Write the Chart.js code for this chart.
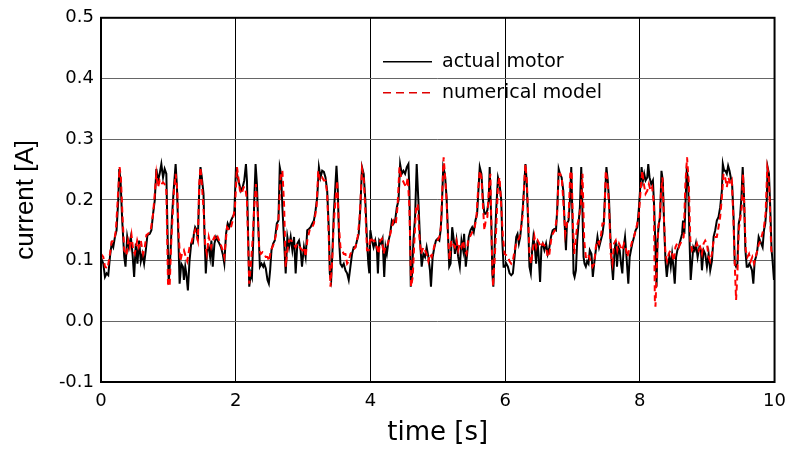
<!DOCTYPE html>
<html>
<head>
<meta charset="utf-8">
<script src="https://cdn.jsdelivr.net/npm/chart.js@4.4.1/dist/chart.umd.min.js"></script>
<style>
  html, body { margin: 0; padding: 0; background: #fff; }
  #wrap { width: 795px; height: 451px; }
</style>
</head>
<body>
<div id="wrap"><canvas id="currentChart" width="795" height="451"></canvas></div>
<script>
// tick labels
var xTicks = [0, 2, 4, 6, 8, 10];
var yTicks = [-0.1, 0.0, 0.1, 0.2, 0.3, 0.4, 0.5];
var seriesNames = ['actual motor', 'numerical model'];

// actual motor: time [s] / current [A]
var timeActual = [
  0.000, 0.034, 0.059, 0.084, 0.108, 0.133, 0.158, 0.182, 0.207, 0.231, 0.256, 0.271, 0.290, 0.315, 0.345, 0.364,
  0.389, 0.414, 0.443, 0.468, 0.492, 0.517, 0.541, 0.566, 0.591, 0.615, 0.640, 0.665, 0.689, 0.724, 0.748, 0.773,
  0.798, 0.822, 0.847, 0.871, 0.896, 0.921, 0.945, 0.970, 0.985, 1.005, 1.034, 1.054, 1.078, 1.108, 1.128, 1.143,
  1.167, 1.192, 1.216, 1.231, 1.251, 1.266, 1.290, 1.314, 1.339, 1.364, 1.379, 1.398, 1.423, 1.438, 1.458, 1.477,
  1.497, 1.522, 1.536, 1.556, 1.576, 1.600, 1.620, 1.639, 1.659, 1.684, 1.708, 1.733, 1.758, 1.782, 1.807, 1.831,
  1.856, 1.881, 1.905, 1.930, 1.955, 1.979, 2.004, 2.029, 2.053, 2.078, 2.103, 2.127, 2.152, 2.167, 2.186, 2.201,
  2.226, 2.241, 2.260, 2.275, 2.295, 2.315, 2.334, 2.359, 2.383, 2.408, 2.423, 2.447, 2.472, 2.492, 2.511, 2.531,
  2.556, 2.580, 2.610, 2.634, 2.654, 2.674, 2.693, 2.718, 2.742, 2.767, 2.792, 2.816, 2.841, 2.866, 2.890, 2.915,
  2.940, 2.964, 2.984, 3.013, 3.038, 3.062, 3.087, 3.112, 3.136, 3.161, 3.186, 3.210, 3.235, 3.259, 3.284, 3.309,
  3.333, 3.358, 3.383, 3.397, 3.417, 3.437, 3.456, 3.481, 3.496, 3.516, 3.535, 3.555, 3.580, 3.604, 3.629, 3.654,
  3.678, 3.703, 3.727, 3.752, 3.777, 3.801, 3.826, 3.851, 3.875, 3.900, 3.925, 3.949, 3.969, 3.984, 3.999, 4.023,
  4.047, 4.072, 4.097, 4.111, 4.131, 4.156, 4.180, 4.205, 4.225, 4.244, 4.269, 4.293, 4.318, 4.343, 4.367, 4.392,
  4.417, 4.441, 4.466, 4.490, 4.515, 4.540, 4.564, 4.579, 4.599, 4.619, 4.638, 4.663, 4.687, 4.712, 4.737, 4.761,
  4.786, 4.811, 4.835, 4.860, 4.884, 4.899, 4.924, 4.949, 4.973, 4.998, 5.023, 5.042, 5.057, 5.081, 5.106, 5.131,
  5.155, 5.170, 5.190, 5.214, 5.239, 5.254, 5.278, 5.303, 5.327, 5.352, 5.377, 5.391, 5.416, 5.436, 5.460, 5.485,
  5.510, 5.534, 5.559, 5.584, 5.603, 5.623, 5.648, 5.672, 5.692, 5.712, 5.736, 5.756, 5.771, 5.795, 5.810, 5.825,
  5.844, 5.869, 5.894, 5.918, 5.943, 5.958, 5.977, 5.997, 6.017, 6.041, 6.066, 6.091, 6.115, 6.140, 6.165, 6.184,
  6.204, 6.224, 6.243, 6.263, 6.288, 6.302, 6.322, 6.342, 6.361, 6.381, 6.401, 6.420, 6.440, 6.460, 6.480, 6.499,
  6.519, 6.539, 6.558, 6.583, 6.608, 6.632, 6.657, 6.681, 6.706, 6.730, 6.755, 6.775, 6.795, 6.814, 6.839, 6.864,
  6.883, 6.903, 6.918, 6.942, 6.962, 6.982, 7.001, 7.016, 7.031, 7.051, 7.070, 7.090, 7.110, 7.130, 7.149, 7.164,
  7.179, 7.198, 7.218, 7.238, 7.257, 7.282, 7.302, 7.322, 7.346, 7.371, 7.395, 7.420, 7.445, 7.464, 7.484, 7.504,
  7.524, 7.543, 7.563, 7.583, 7.602, 7.622, 7.642, 7.661, 7.681, 7.701, 7.720, 7.740, 7.760, 7.780, 7.799, 7.829,
  7.849, 7.868, 7.888, 7.913, 7.937, 7.962, 7.987, 8.006, 8.026, 8.046, 8.065, 8.085, 8.110, 8.125, 8.144, 8.169,
  8.194, 8.213, 8.233, 8.248, 8.262, 8.282, 8.301, 8.321, 8.341, 8.360, 8.380, 8.400, 8.420, 8.439, 8.459, 8.479,
  8.498, 8.518, 8.538, 8.557, 8.577, 8.602, 8.627, 8.641, 8.661, 8.676, 8.696, 8.715, 8.735, 8.755, 8.774, 8.794,
  8.814, 8.833, 8.858, 8.883, 8.907, 8.922, 8.947, 8.971, 8.996, 9.021, 9.045, 9.070, 9.095, 9.119, 9.143, 9.168,
  9.193, 9.218, 9.232, 9.252, 9.272, 9.291, 9.311, 9.331, 9.350, 9.370, 9.390, 9.409, 9.429, 9.449, 9.468, 9.488,
  9.508, 9.527, 9.547, 9.567, 9.587, 9.606, 9.626, 9.646, 9.665, 9.685, 9.705, 9.724, 9.744, 9.764, 9.784, 9.803,
  9.823, 9.843, 9.862, 9.882, 9.897, 9.917, 9.936, 9.956, 9.971, 9.991
];
var currentActual = [
  0.105, 0.095, 0.073, 0.079, 0.076, 0.106, 0.128, 0.122, 0.139, 0.150, 0.199, 0.251, 0.232, 0.166, 0.106, 0.090,
  0.139, 0.122, 0.139, 0.111, 0.073, 0.128, 0.095, 0.133, 0.099, 0.111, 0.095, 0.117, 0.142, 0.144, 0.150, 0.177,
  0.199, 0.251, 0.232, 0.243, 0.259, 0.237, 0.251, 0.243, 0.161, 0.062, 0.117, 0.172, 0.215, 0.259, 0.221, 0.161,
  0.062, 0.095, 0.090, 0.068, 0.090, 0.079, 0.051, 0.099, 0.128, 0.128, 0.144, 0.155, 0.150, 0.133, 0.215, 0.254,
  0.237, 0.210, 0.144, 0.079, 0.117, 0.122, 0.106, 0.133, 0.090, 0.128, 0.139, 0.133, 0.128, 0.122, 0.111, 0.095,
  0.144, 0.161, 0.155, 0.166, 0.172, 0.177, 0.254, 0.237, 0.226, 0.215, 0.221, 0.232, 0.259, 0.232, 0.133, 0.057,
  0.079, 0.073, 0.133, 0.199, 0.259, 0.226, 0.161, 0.090, 0.095, 0.090, 0.095, 0.087, 0.068, 0.062, 0.084, 0.117,
  0.128, 0.133, 0.161, 0.166, 0.254, 0.243, 0.188, 0.133, 0.079, 0.139, 0.122, 0.139, 0.117, 0.139, 0.079, 0.128,
  0.133, 0.117, 0.090, 0.122, 0.106, 0.150, 0.152, 0.155, 0.161, 0.166, 0.183, 0.204, 0.254, 0.237, 0.248, 0.246,
  0.237, 0.215, 0.150, 0.079, 0.068, 0.117, 0.177, 0.226, 0.256, 0.215, 0.133, 0.095, 0.090, 0.095, 0.084, 0.079,
  0.068, 0.090, 0.111, 0.122, 0.122, 0.133, 0.144, 0.188, 0.254, 0.243, 0.199, 0.133, 0.095, 0.079, 0.150, 0.133,
  0.122, 0.133, 0.117, 0.079, 0.133, 0.128, 0.136, 0.073, 0.122, 0.111, 0.133, 0.144, 0.166, 0.161, 0.166, 0.188,
  0.199, 0.259, 0.243, 0.248, 0.243, 0.254, 0.259, 0.215, 0.057, 0.079, 0.133, 0.172, 0.259, 0.199, 0.133, 0.090,
  0.111, 0.106, 0.122, 0.106, 0.084, 0.057, 0.106, 0.122, 0.133, 0.136, 0.133, 0.150, 0.177, 0.254, 0.243, 0.204,
  0.133, 0.090, 0.095, 0.155, 0.133, 0.111, 0.133, 0.106, 0.090, 0.133, 0.117, 0.144, 0.090, 0.111, 0.139, 0.150,
  0.155, 0.147, 0.166, 0.177, 0.215, 0.254, 0.243, 0.199, 0.177, 0.177, 0.183, 0.199, 0.254, 0.161, 0.079, 0.057,
  0.122, 0.188, 0.237, 0.226, 0.199, 0.133, 0.090, 0.090, 0.095, 0.090, 0.079, 0.076, 0.079, 0.106, 0.139, 0.144,
  0.128, 0.139, 0.161, 0.188, 0.232, 0.259, 0.226, 0.161, 0.090, 0.079, 0.117, 0.139, 0.122, 0.095, 0.133, 0.106,
  0.065, 0.122, 0.128, 0.117, 0.128, 0.111, 0.122, 0.139, 0.150, 0.152, 0.150, 0.188, 0.251, 0.243, 0.237, 0.215,
  0.161, 0.117, 0.161, 0.166, 0.199, 0.254, 0.161, 0.079, 0.073, 0.084, 0.133, 0.161, 0.188, 0.254, 0.177, 0.106,
  0.095, 0.090, 0.099, 0.095, 0.117, 0.111, 0.073, 0.095, 0.117, 0.139, 0.122, 0.133, 0.144, 0.161, 0.210, 0.254,
  0.232, 0.199, 0.139, 0.095, 0.068, 0.111, 0.133, 0.090, 0.122, 0.117, 0.095, 0.079, 0.122, 0.139, 0.111, 0.062,
  0.106, 0.117, 0.128, 0.139, 0.150, 0.155, 0.188, 0.221, 0.254, 0.232, 0.243, 0.232, 0.237, 0.259, 0.237, 0.226,
  0.232, 0.188, 0.117, 0.057, 0.133, 0.161, 0.172, 0.248, 0.232, 0.161, 0.101, 0.073, 0.095, 0.106, 0.090, 0.111,
  0.090, 0.062, 0.106, 0.117, 0.122, 0.133, 0.144, 0.166, 0.144, 0.188, 0.248, 0.237, 0.144, 0.068, 0.095, 0.122,
  0.117, 0.128, 0.106, 0.122, 0.117, 0.084, 0.117, 0.111, 0.090, 0.111, 0.084, 0.099, 0.139, 0.150, 0.166, 0.172,
  0.188, 0.215, 0.259, 0.248, 0.248, 0.243, 0.256, 0.248, 0.237, 0.226, 0.177, 0.095, 0.090, 0.095, 0.161, 0.172,
  0.204, 0.254, 0.204, 0.117, 0.090, 0.090, 0.095, 0.090, 0.084, 0.062, 0.099, 0.106, 0.117, 0.139, 0.133, 0.128,
  0.122, 0.150, 0.161, 0.188, 0.254, 0.243, 0.188, 0.117, 0.099, 0.068
];

// numerical model
var timeModel = [
  0.000, 0.034, 0.059, 0.098, 0.133, 0.158, 0.197, 0.221, 0.256, 0.276, 0.295, 0.320, 0.345, 0.379, 0.404, 0.428,
  0.453, 0.478, 0.502, 0.537, 0.561, 0.591, 0.625, 0.650, 0.674, 0.699, 0.738, 0.773, 0.798, 0.822, 0.847, 0.871,
  0.896, 0.921, 0.945, 0.970, 0.995, 1.019, 1.044, 1.083, 1.108, 1.133, 1.152, 1.177, 1.202, 1.231, 1.251, 1.280,
  1.314, 1.339, 1.364, 1.398, 1.438, 1.458, 1.477, 1.497, 1.527, 1.546, 1.571, 1.600, 1.635, 1.659, 1.684, 1.708,
  1.733, 1.772, 1.807, 1.831, 1.871, 1.905, 1.930, 1.955, 1.989, 2.019, 2.039, 2.063, 2.088, 2.117, 2.142, 2.167,
  2.186, 2.201, 2.226, 2.250, 2.275, 2.300, 2.324, 2.349, 2.373, 2.398, 2.423, 2.447, 2.472, 2.497, 2.521, 2.556,
  2.580, 2.610, 2.634, 2.669, 2.693, 2.718, 2.742, 2.767, 2.792, 2.826, 2.856, 2.890, 2.915, 2.950, 2.989, 3.013,
  3.038, 3.062, 3.101, 3.136, 3.161, 3.200, 3.225, 3.249, 3.284, 3.309, 3.333, 3.358, 3.383, 3.407, 3.432, 3.456,
  3.481, 3.506, 3.530, 3.555, 3.580, 3.604, 3.629, 3.654, 3.678, 3.703, 3.742, 3.777, 3.811, 3.841, 3.875, 3.900,
  3.925, 3.949, 3.974, 3.999, 4.023, 4.058, 4.097, 4.121, 4.146, 4.170, 4.195, 4.220, 4.244, 4.284, 4.318, 4.343,
  4.377, 4.402, 4.431, 4.456, 4.481, 4.505, 4.530, 4.554, 4.579, 4.604, 4.628, 4.653, 4.678, 4.702, 4.727, 4.751,
  4.786, 4.811, 4.835, 4.860, 4.884, 4.909, 4.934, 4.958, 4.993, 5.023, 5.047, 5.067, 5.087, 5.106, 5.131, 5.151,
  5.175, 5.200, 5.224, 5.254, 5.278, 5.303, 5.327, 5.352, 5.377, 5.401, 5.426, 5.451, 5.475, 5.500, 5.524, 5.549,
  5.574, 5.598, 5.623, 5.648, 5.672, 5.692, 5.712, 5.736, 5.761, 5.781, 5.800, 5.820, 5.844, 5.869, 5.894, 5.918,
  5.943, 5.967, 5.992, 6.017, 6.041, 6.066, 6.091, 6.115, 6.140, 6.165, 6.189, 6.214, 6.238, 6.263, 6.288, 6.302,
  6.322, 6.342, 6.361, 6.386, 6.410, 6.435, 6.460, 6.484, 6.509, 6.534, 6.558, 6.583, 6.608, 6.632, 6.657, 6.681,
  6.706, 6.740, 6.770, 6.795, 6.819, 6.844, 6.869, 6.893, 6.918, 6.942, 6.967, 6.987, 7.006, 7.026, 7.051, 7.075,
  7.100, 7.125, 7.149, 7.174, 7.198, 7.208, 7.228, 7.248, 7.272, 7.297, 7.322, 7.346, 7.371, 7.395, 7.420, 7.445,
  7.469, 7.494, 7.519, 7.543, 7.568, 7.593, 7.617, 7.642, 7.666, 7.691, 7.716, 7.740, 7.765, 7.790, 7.814, 7.839,
  7.864, 7.888, 7.913, 7.937, 7.962, 7.987, 8.011, 8.036, 8.060, 8.085, 8.110, 8.134, 8.159, 8.183, 8.208, 8.223,
  8.232, 8.252, 8.272, 8.292, 8.316, 8.336, 8.355, 8.380, 8.405, 8.429, 8.454, 8.479, 8.503, 8.528, 8.552, 8.577,
  8.602, 8.627, 8.651, 8.676, 8.701, 8.725, 8.750, 8.774, 8.799, 8.824, 8.848, 8.873, 8.898, 8.922, 8.947, 8.971,
  8.996, 9.021, 9.045, 9.070, 9.095, 9.119, 9.143, 9.168, 9.193, 9.218, 9.242, 9.267, 9.291, 9.316, 9.341, 9.365,
  9.390, 9.414, 9.429, 9.449, 9.468, 9.488, 9.513, 9.532, 9.552, 9.572, 9.597, 9.621, 9.646, 9.670, 9.695, 9.720,
  9.744, 9.769, 9.793, 9.818, 9.843, 9.867, 9.892, 9.912, 9.931, 9.951, 9.971, 9.991
];
var currentModel = [
  0.111, 0.106, 0.090, 0.087, 0.111, 0.131, 0.133, 0.150, 0.215, 0.254, 0.237, 0.172, 0.117, 0.109, 0.133, 0.122,
  0.142, 0.117, 0.111, 0.133, 0.122, 0.133, 0.111, 0.122, 0.142, 0.144, 0.150, 0.177, 0.210, 0.243, 0.221, 0.232,
  0.226, 0.229, 0.226, 0.215, 0.062, 0.057, 0.133, 0.215, 0.243, 0.215, 0.144, 0.099, 0.111, 0.117, 0.109, 0.099,
  0.122, 0.128, 0.139, 0.150, 0.133, 0.226, 0.254, 0.226, 0.177, 0.128, 0.111, 0.139, 0.122, 0.133, 0.139, 0.133,
  0.139, 0.128, 0.117, 0.106, 0.155, 0.150, 0.155, 0.166, 0.188, 0.254, 0.237, 0.215, 0.210, 0.221, 0.221, 0.199,
  0.122, 0.062, 0.095, 0.133, 0.188, 0.226, 0.188, 0.117, 0.111, 0.114, 0.111, 0.106, 0.106, 0.099, 0.117, 0.125,
  0.133, 0.150, 0.166, 0.243, 0.248, 0.193, 0.090, 0.117, 0.133, 0.133, 0.128, 0.122, 0.128, 0.122, 0.117, 0.122,
  0.106, 0.133, 0.152, 0.155, 0.161, 0.188, 0.248, 0.232, 0.237, 0.232, 0.232, 0.210, 0.133, 0.057, 0.099, 0.161,
  0.199, 0.232, 0.161, 0.122, 0.117, 0.111, 0.111, 0.095, 0.099, 0.111, 0.117, 0.122, 0.139, 0.172, 0.251, 0.237,
  0.183, 0.117, 0.117, 0.139, 0.133, 0.133, 0.122, 0.111, 0.133, 0.136, 0.111, 0.122, 0.122, 0.139, 0.155, 0.166,
  0.161, 0.188, 0.254, 0.237, 0.232, 0.226, 0.221, 0.237, 0.188, 0.057, 0.073, 0.133, 0.188, 0.193, 0.139, 0.111,
  0.122, 0.117, 0.111, 0.099, 0.111, 0.106, 0.117, 0.128, 0.133, 0.139, 0.155, 0.215, 0.270, 0.243, 0.199, 0.139,
  0.101, 0.133, 0.128, 0.122, 0.133, 0.117, 0.128, 0.122, 0.133, 0.117, 0.111, 0.133, 0.139, 0.144, 0.150, 0.155,
  0.172, 0.215, 0.248, 0.237, 0.188, 0.150, 0.166, 0.172, 0.221, 0.243, 0.133, 0.057, 0.101, 0.155, 0.226, 0.237,
  0.188, 0.139, 0.111, 0.109, 0.106, 0.099, 0.095, 0.099, 0.117, 0.128, 0.133, 0.139, 0.155, 0.177, 0.237, 0.259,
  0.232, 0.172, 0.111, 0.095, 0.117, 0.139, 0.122, 0.133, 0.128, 0.122, 0.128, 0.125, 0.122, 0.106, 0.111, 0.133,
  0.144, 0.150, 0.172, 0.243, 0.243, 0.232, 0.188, 0.144, 0.161, 0.172, 0.243, 0.248, 0.161, 0.111, 0.139, 0.161,
  0.172, 0.193, 0.243, 0.133, 0.106, 0.106, 0.111, 0.106, 0.099, 0.090, 0.095, 0.122, 0.133, 0.128, 0.139, 0.161,
  0.161, 0.248, 0.232, 0.188, 0.111, 0.095, 0.128, 0.133, 0.117, 0.128, 0.122, 0.117, 0.128, 0.122, 0.106, 0.117,
  0.122, 0.133, 0.139, 0.150, 0.161, 0.177, 0.215, 0.248, 0.226, 0.210, 0.215, 0.226, 0.215, 0.221, 0.193, 0.035,
  0.024, 0.090, 0.155, 0.166, 0.215, 0.237, 0.177, 0.111, 0.099, 0.111, 0.117, 0.111, 0.099, 0.122, 0.128, 0.122,
  0.128, 0.133, 0.139, 0.226, 0.270, 0.232, 0.133, 0.117, 0.122, 0.122, 0.128, 0.117, 0.122, 0.111, 0.128, 0.133,
  0.128, 0.106, 0.099, 0.111, 0.133, 0.139, 0.139, 0.155, 0.172, 0.204, 0.243, 0.237, 0.221, 0.237, 0.226, 0.232,
  0.166, 0.079, 0.035, 0.079, 0.150, 0.166, 0.188, 0.243, 0.188, 0.117, 0.106, 0.111, 0.099, 0.106, 0.095, 0.106,
  0.117, 0.128, 0.133, 0.144, 0.155, 0.177, 0.254, 0.243, 0.188, 0.117, 0.111, 0.111
];

function toPoints(xs, ys) {
  return xs.map(function (x, i) { return { x: x, y: ys[i] }; });
}

// frame round the plot area + legend inside it
var framePlugin = {
  id: 'frame',
  afterDatasetsDraw: function (chart) {
    var ctx = chart.ctx;
    var a = chart.chartArea;
    ctx.save();
    ctx.strokeStyle = '#000';
    ctx.lineWidth = 2;
    ctx.strokeRect(a.left, a.top, a.right - a.left, a.bottom - a.top);

    var x0 = a.left + 282, x1 = a.left + 331, tx = a.left + 341;
    var rows = [
      { y: a.top + 44, color: '#000', dash: [] },
      { y: a.top + 75, color: '#e00000', dash: [8, 5] }
    ];
    ctx.font = '19px "DejaVu Sans"';
    ctx.textBaseline = 'middle';
    rows.forEach(function (r, i) {
      ctx.beginPath();
      ctx.setLineDash(r.dash);
      ctx.strokeStyle = r.color;
      ctx.lineWidth = 1.5;
      ctx.moveTo(x0, r.y);
      ctx.lineTo(x1, r.y);
      ctx.stroke();
      ctx.fillStyle = '#000';
      ctx.fillText(seriesNames[i], tx, r.y);
    });
    ctx.restore();
  }
};

var ctx = document.getElementById('currentChart').getContext('2d');
var chart = new Chart(ctx, {
  type: 'line',
  data: {
    datasets: [
      {
        label: seriesNames[1],
        data: toPoints(timeModel, currentModel),
        borderColor: '#ff0000',
        borderWidth: 2,
        borderDash: [6, 4],
        pointRadius: 0,
        tension: 0,
        order: 0
      },
      {
        label: seriesNames[0],
        data: toPoints(timeActual, currentActual),
        borderColor: '#000000',
        borderWidth: 2,
        pointRadius: 0,
        tension: 0,
        order: 1
      }
    ]
  },
  options: {
    responsive: false,
    animation: false,
    layout: { padding: { top: 17, right: 18, left: 0, bottom: 0 } },
    plugins: {
      legend: { display: false },
      tooltip: { enabled: false }
    },
    scales: {
      x: {
        type: 'linear',
        min: 0,
        max: 10,
        afterBuildTicks: function (scale) {
          scale.ticks = xTicks.map(function (v) { return { value: v }; });
        },
        afterFit: function (scale) { scale.height = 69; },
        grid: { color: '#000', lineWidth: 1, drawTicks: false },
        border: { display: false },
        ticks: {
          padding: 9,
          color: '#000',
          font: { family: 'DejaVu Sans', size: 18 },
          maxRotation: 0,
          callback: function (v) { return String(v); }
        },
        title: {
          display: true,
          text: 'time [s]',
          color: '#000',
          font: { family: 'DejaVu Sans', size: 26 },
          padding: { top: 0, bottom: 2 }
        }
      },
      y: {
        min: -0.1,
        max: 0.5,
        afterBuildTicks: function (scale) {
          scale.ticks = yTicks.map(function (v) { return { value: v }; });
        },
        afterFit: function (scale) { scale.width = 101; },
        grid: { color: '#666', lineWidth: 1, drawTicks: false },
        border: { display: false },
        ticks: {
          padding: 7,
          color: '#000',
          font: { family: 'DejaVu Sans', size: 18 },
          callback: function (v) { return v.toFixed(1); }
        },
        title: {
          display: true,
          text: 'current [A]',
          color: '#000',
          font: { family: 'Liberation Sans', size: 26 },
          padding: { top: 10, bottom: 0 }
        }
      }
    }
  },
  plugins: [framePlugin]
});
</script>
</body>
</html>
